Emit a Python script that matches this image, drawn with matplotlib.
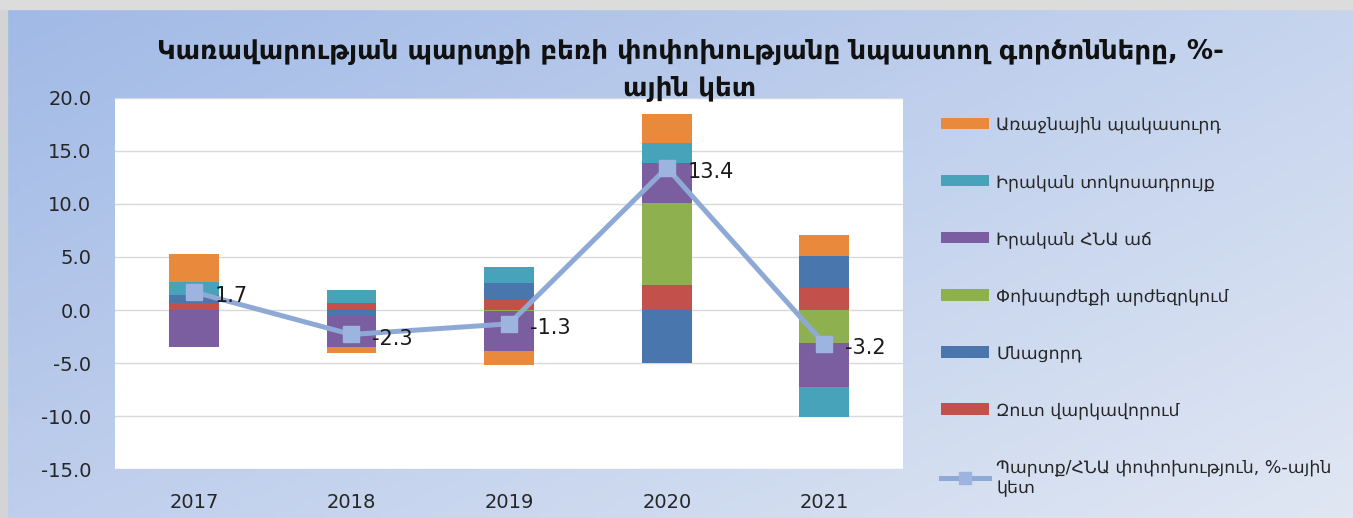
import numpy as np
import matplotlib
matplotlib.use("Agg")
import matplotlib.pyplot as plt
from matplotlib.patches import Patch
from matplotlib.lines import Line2D

plt.rcParams['font.family'] = ['DejaVu Sans']
plt.rcParams['axes.unicode_minus'] = False

years = ['2017', '2018', '2019', '2020', '2021']
# stacking order (Excel series order): bottom -> top
net_lending = [0.64, 0.70, 0.95, 2.36, 2.10]        # Զուտ վարկավորում
residual = [0.78, -0.55, 1.57, -5.0, 3.01]          # Մնացորդ
depreciation = [0.0, 0.0, -0.10, 7.69, -3.13]       # Փոխարժեքի արժեզրկում
real_gdp = [-3.45, -2.95, -3.80, 3.77, -4.09]       # Իրական ՀՆԱ աճ
real_rate = [1.25, 1.20, 1.50, 1.94, -2.82]         # Իրական տոկոսադրույք
primary_def = [2.61, -0.56, -1.25, 2.70, 1.95]      # Առաջնային պակասուրդ
debt_change = [1.7, -2.3, -1.3, 13.4, -3.2]         # Պարտք/ՀՆԱ փոփոխություն

series_names = ['Զուտ վարկավորում', 'Մնացորդ', 'Փոխարժեքի արժեզրկում',
                'Իրական ՀՆԱ աճ', 'Իրական տոկոսադրույք', 'Առաջնային պակասուրդ']
line_name = 'Պարտք/ՀՆԱ փոփոխություն, %-ային\nկետ'
title = 'Կառավարության պարտքի բեռի փոփոխությանը նպաստող գործոնները, %-\nային կետ'
yticks = [20, 15, 10, 5, 0, -5, -10, -15]

colors = ['#C4504B', '#4A76AE', '#8FB04E', '#7B5EA0', '#46A3B9', '#E9893B']
line_color = '#8FA9D6'
marker_color = '#9DB4E0'

W, H = 1353, 518
fig = plt.figure(figsize=(W / 100, H / 100), dpi=100)

# gradient background
bg = fig.add_axes([0, 0, 1, 1], zorder=-10)
bg.axis('off')
tl = np.array([160, 185, 230]) / 255
tr = np.array([198, 212, 238]) / 255
bl = np.array([190, 206, 236]) / 255
br = np.array([224, 231, 243]) / 255
u = np.linspace(0, 1, 200)[None, :, None]
v = np.linspace(0, 1, 100)[:, None, None]
img = (1 - v) * ((1 - u) * tl + u * tr) + v * ((1 - u) * bl + u * br)
bg.imshow(img, extent=[0, 1, 0, 1], aspect='auto', origin='upper')
bg.set_xlim(0, 1); bg.set_ylim(0, 1)
# gray frame strips
bg.add_patch(plt.Rectangle((0, 0), 7 / W, 1, color='#d4d4d4', transform=bg.transAxes))
bg.add_patch(plt.Rectangle((0, 1 - 9 / H), 1, 9 / H, color='#dcdcdc', transform=bg.transAxes))

ax = fig.add_axes([115 / W, 1 - 469.3 / H, (903.3 - 115) / W, (469.3 - 97.7) / H])
ax.set_facecolor('white')
x = np.arange(len(years))
width = 0.317

data = [net_lending, residual, depreciation, real_gdp, real_rate, primary_def]
pos_base = np.zeros(len(years))
neg_base = np.zeros(len(years))
handles = []
for vals, c, name in zip(data, colors, series_names):
    vals = np.array(vals, dtype=float)
    bottoms = np.where(vals >= 0, pos_base, neg_base)
    ax.bar(x, vals, width, bottom=bottoms, color=c, zorder=2, linewidth=0)
    pos_base += np.where(vals >= 0, vals, 0)
    neg_base += np.where(vals < 0, vals, 0)
    handles.append(Patch(facecolor=c, edgecolor='none', label=name))

ax.plot(x, debt_change, color=line_color, lw=3.6, marker='s', markersize=12,
        markerfacecolor=marker_color, markeredgecolor=marker_color, zorder=4)
for xi, yv in zip(x, debt_change):
    ax.annotate(f'{yv:.1f}', (xi, yv), xytext=(15, -3), textcoords='offset points',
                ha='left', va='center', fontsize=15, color='#1a1a1a', zorder=5)

ax.set_xlim(-0.5, 4.5)
ax.set_ylim(-15, 20)
ax.set_yticks(yticks)
ax.set_yticklabels([f'{t:.1f}' for t in yticks])
ax.set_xticks(x)
ax.set_xticklabels(years)
ax.tick_params(axis='both', length=0, labelsize=14, colors='#262626')
ax.tick_params(axis='y', pad=17)
ax.tick_params(axis='x', pad=17)
ax.grid(axis='y', color='#d9d9d9', lw=1, zorder=0)
ax.set_axisbelow(True)
for s in ax.spines.values():
    s.set_visible(False)

line_handle = Line2D([], [], color=line_color, lw=3.6, marker='s', markersize=9,
                     markerfacecolor=marker_color, markeredgecolor=marker_color,
                     label=line_name)
leg_handles = handles[::-1] + [line_handle]
leg = fig.legend(handles=leg_handles, loc='upper left',
                 bbox_to_anchor=(925 / W, 1 - 100 / H), frameon=False,
                 fontsize=12.5, labelspacing=2.25, handlelength=2.8,
                 handleheight=0.65, handletextpad=0.4, labelcolor='#262626')

fig.text(690 / W, 1 - 70 / H, title, ha='center', va='center', fontsize=18.8,
         fontweight='bold', linespacing=1.55, color='#111111')

fig.savefig('out.png', dpi=100)
